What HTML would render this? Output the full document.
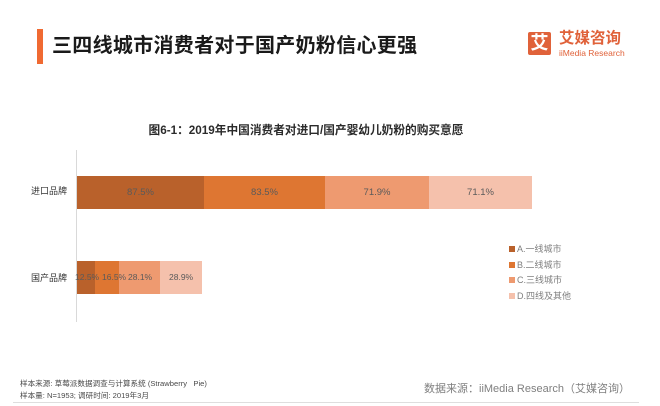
<!DOCTYPE html>
<html>
<head>
<meta charset="utf-8">
<style>
*{margin:0;padding:0;box-sizing:border-box;}
html,body{width:660px;height:406px;background:#fff;overflow:hidden;}
body{position:relative;font-family:"Liberation Sans","Noto Sans CJK SC",sans-serif;}
.abs{position:absolute;white-space:nowrap;}
.seg{position:absolute;display:flex;align-items:center;justify-content:center;font-size:9.5px;color:#5a5a5a;overflow:visible;}
.seg span{white-space:nowrap;}
.lb{position:absolute;top:261px;height:33px;line-height:33px;font-size:8.5px;color:#5a5a5a;white-space:nowrap;}
.lg{position:absolute;left:509px;font-size:9px;color:#7f7f7f;line-height:10px;height:10px;}
.lg i{position:absolute;left:0;top:2px;width:6px;height:6px;}
.lg span{position:absolute;left:8px;top:0;white-space:nowrap;}
</style>
</head>
<body>
<!-- header -->
<div class="abs" style="left:37px;top:29px;width:6px;height:35px;background:#F06A32;"></div>
<div class="abs" style="left:52px;top:36px;font-size:20px;line-height:20px;font-weight:bold;color:#1a1a1a;letter-spacing:0.3px;">三四线城市消费者对于国产奶粉信心更强</div>

<!-- logo -->
<div class="abs" style="left:528px;top:32px;width:23px;height:23px;background:#E0623A;border-radius:2px;color:#fff;font-size:18px;font-weight:bold;line-height:23px;text-align:center;">艾</div>
<div class="abs" style="left:559px;top:31px;font-size:15.5px;line-height:16px;font-weight:bold;color:#E0623A;">艾媒咨询</div>
<div class="abs" style="left:559px;top:49px;font-size:8.5px;line-height:9px;color:#E0623A;">iiMedia Research</div>

<!-- chart title -->
<div class="abs" style="left:145px;top:124px;width:322px;text-align:center;font-size:11.7px;line-height:14px;font-weight:bold;color:#2b2b2b;">图6-1：2019年中国消费者对进口/国产婴幼儿奶粉的购买意愿</div>

<!-- axis -->
<div class="abs" style="left:76px;top:150px;width:1px;height:172px;background:#d9d9d9;"></div>

<!-- category labels -->
<div class="abs" style="left:24px;top:186px;width:43px;text-align:right;font-size:9px;line-height:11px;color:#333;">进口品牌</div>
<div class="abs" style="left:24px;top:273px;width:43px;text-align:right;font-size:9px;line-height:11px;color:#333;">国产品牌</div>

<!-- bar 1 -->
<div class="seg" style="left:77px;top:176px;width:127px;height:33px;background:#B9612B;"><span>87.5%</span></div>
<div class="seg" style="left:204px;top:176px;width:121px;height:33px;background:#DE7632;"><span>83.5%</span></div>
<div class="seg" style="left:325px;top:176px;width:104px;height:33px;background:#EE9A70;"><span>71.9%</span></div>
<div class="seg" style="left:429px;top:176px;width:103px;height:33px;background:#F5C1AC;"><span>71.1%</span></div>

<!-- bar 2 -->
<div class="seg" style="left:77px;top:261px;width:18px;height:33px;background:#B9612B;"></div>
<div class="seg" style="left:95px;top:261px;width:24px;height:33px;background:#DE7632;"></div>
<div class="seg" style="left:119px;top:261px;width:41px;height:33px;background:#EE9A70;"></div>
<div class="seg" style="left:160px;top:261px;width:42px;height:33px;background:#F5C1AC;"></div>
<div class="lb" style="left:75px;">12.5%</div>
<div class="lb" style="left:102px;">16.5%</div>
<div class="lb" style="left:128px;">28.1%</div>
<div class="lb" style="left:169px;">28.9%</div>

<!-- legend -->
<div class="lg" style="top:244px;"><i style="background:#B9612B;"></i><span>A.一线城市</span></div>
<div class="lg" style="top:260px;"><i style="background:#DE7632;"></i><span>B.二线城市</span></div>
<div class="lg" style="top:275px;"><i style="background:#EE9A70;"></i><span>C.三线城市</span></div>
<div class="lg" style="top:291px;"><i style="background:#F5C1AC;"></i><span>D.四线及其他</span></div>

<!-- footer -->
<div class="abs" style="left:20px;top:379px;font-size:7.6px;line-height:9px;color:#4a4a4a;">样本来源: 草莓派数据调查与计算系统 (Strawberry&nbsp;&nbsp;&nbsp;Pie)</div>
<div class="abs" style="left:20px;top:391px;font-size:7.6px;line-height:9px;color:#4a4a4a;">样本量: N=1953; 调研时间: 2019年3月</div>
<div class="abs" style="left:424px;top:382px;font-size:11px;line-height:14px;color:#7f7f7f;">数据来源：iiMedia Research（艾媒咨询）</div>
<div class="abs" style="left:13px;top:402px;width:626px;height:1px;background:#dedede;"></div>
</body>
</html>
